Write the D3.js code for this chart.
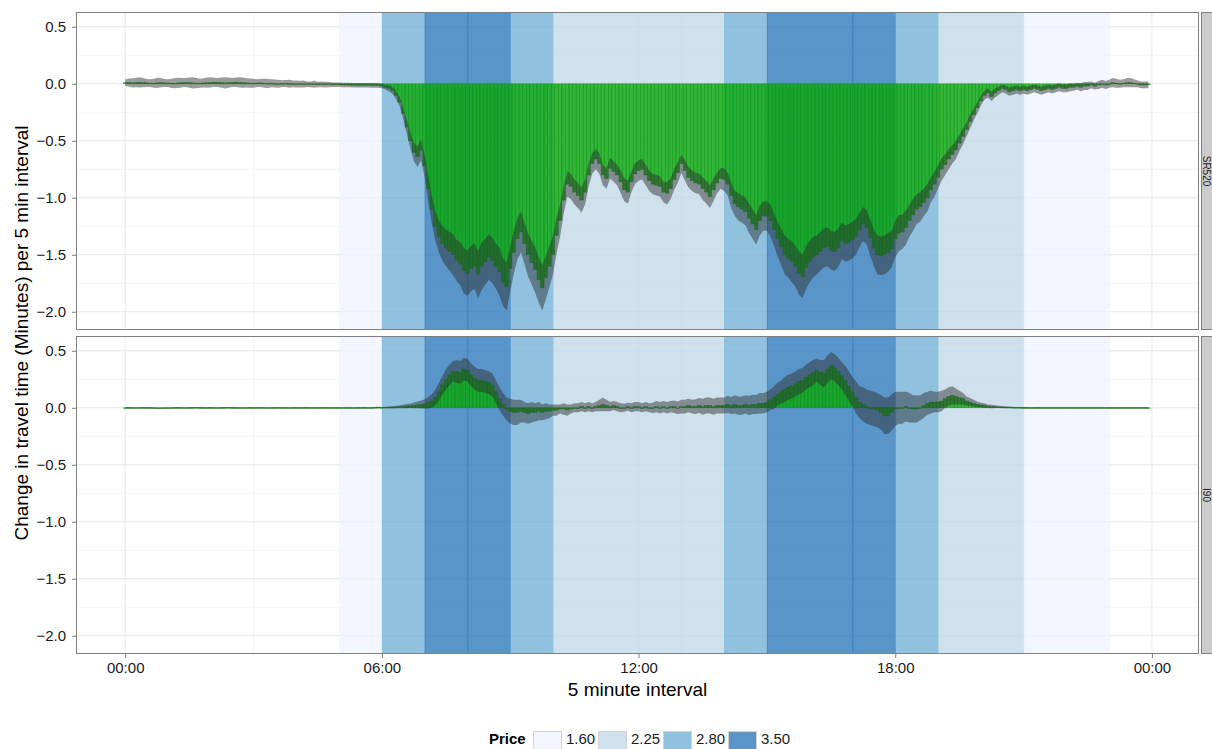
<!DOCTYPE html>
<html><head><meta charset="utf-8">
<script src="https://cdn.jsdelivr.net/npm/d3@7"></script>
<style>body{margin:0;background:#fff}svg{display:block;font-family:"Liberation Sans",Arial,Helvetica,sans-serif}</style>
</head><body><svg id="c" width="1212" height="749"></svg>
<script>
// ---------- DATA ----------
const facets = ["SR520", "I90"];
// change in travel time per 5-minute interval (00:00 .. 23:55), one row per hour
const sr520 = [
 0.01,0.012,0.008,0.01,0.012,0.01,0.008,0.006,0.005,0.008,0.01,0.008,
 0.006,0.004,0.005,0.008,0.01,0.012,0.01,0.008,0.006,0.005,0.008,0.01,
 0.012,0.014,0.012,0.01,0.008,0.01,0.012,0.015,0.012,0.01,0.008,0.006,
 0.005,0.006,0.008,0.005,0.003,0.004,0.002,0.0,0.002,0.003,0.001,0.0,
 -0.002,-0.003,-0.002,-0.004,-0.005,-0.004,-0.006,-0.005,-0.007,-0.006,-0.008,-0.008,
 -0.009,-0.01,-0.01,-0.011,-0.012,-0.012,-0.013,-0.012,-0.013,-0.014,-0.014,-0.015,
 -0.02,-0.03,-0.04,-0.06,-0.1,-0.16,-0.26,-0.38,-0.5,-0.6,-0.64,-0.58,
 -0.72,-0.92,-1.1,-1.25,-1.34,-1.4,-1.44,-1.47,-1.5,-1.55,-1.58,-1.64,
 -1.66,-1.62,-1.6,-1.67,-1.6,-1.56,-1.52,-1.55,-1.6,-1.65,-1.74,-1.78,
 -1.62,-1.48,-1.36,-1.3,-1.4,-1.5,-1.57,-1.63,-1.72,-1.79,-1.7,-1.6,
 -1.5,-1.33,-1.2,-1.02,-0.88,-0.9,-0.95,-0.98,-1.02,-0.95,-0.8,-0.7,
 -0.66,-0.7,-0.8,-0.83,-0.74,-0.77,-0.8,-0.86,-0.93,-0.95,-0.86,-0.79,
 -0.76,-0.75,-0.8,-0.85,-0.88,-0.89,-0.9,-0.95,-0.96,-0.92,-0.84,-0.78,
 -0.7,-0.76,-0.82,-0.85,-0.87,-0.88,-0.92,-0.95,-0.99,-0.93,-0.87,-0.83,
 -0.84,-0.88,-0.98,-1.05,-1.08,-1.1,-1.12,-1.18,-1.23,-1.28,-1.2,-1.16,
 -1.16,-1.2,-1.28,-1.36,-1.43,-1.5,-1.53,-1.56,-1.6,-1.66,-1.69,-1.61,
 -1.56,-1.52,-1.5,-1.47,-1.44,-1.43,-1.46,-1.47,-1.44,-1.38,-1.4,-1.39,
 -1.37,-1.34,-1.28,-1.23,-1.26,-1.35,-1.44,-1.5,-1.51,-1.5,-1.48,-1.45,
 -1.36,-1.31,-1.3,-1.26,-1.2,-1.15,-1.1,-1.08,-1.04,-1.0,-0.93,-0.88,
 -0.82,-0.75,-0.71,-0.66,-0.62,-0.58,-0.52,-0.46,-0.4,-0.33,-0.27,-0.21,
 -0.15,-0.1,-0.08,-0.11,-0.08,-0.06,-0.04,-0.05,-0.07,-0.06,-0.05,-0.06,
 -0.05,-0.06,-0.05,-0.04,-0.05,-0.06,-0.05,-0.04,-0.05,-0.04,-0.03,-0.04,
 -0.04,-0.03,-0.03,-0.02,-0.03,-0.02,-0.02,-0.01,-0.02,-0.01,0.0,-0.01,
 0.0,0.01,0.005,0.0,0.005,0.01,0.01,0.005,0.0,-0.01,-0.01,-0.01
];
const sr520Err = [
 0.03,0.035,0.04,0.04,0.045,0.04,0.035,0.035,0.04,0.045,0.04,0.035,
 0.035,0.04,0.045,0.045,0.04,0.04,0.045,0.05,0.045,0.04,0.04,0.045,
 0.045,0.04,0.04,0.045,0.05,0.045,0.04,0.04,0.045,0.045,0.04,0.04,
 0.04,0.035,0.035,0.04,0.04,0.035,0.035,0.035,0.03,0.03,0.035,0.03,
 0.03,0.03,0.03,0.025,0.025,0.03,0.025,0.025,0.025,0.025,0.02,0.02,
 0.02,0.02,0.02,0.02,0.02,0.02,0.02,0.02,0.02,0.02,0.02,0.02,
 0.02,0.02,0.025,0.03,0.035,0.04,0.05,0.06,0.07,0.08,0.09,0.09,
 0.1,0.11,0.12,0.13,0.14,0.15,0.16,0.17,0.18,0.18,0.19,0.2,
 0.2,0.2,0.2,0.21,0.21,0.2,0.2,0.2,0.2,0.21,0.21,0.21,
 0.2,0.19,0.18,0.18,0.18,0.19,0.19,0.2,0.2,0.2,0.19,0.18,
 0.17,0.16,0.14,0.12,0.11,0.11,0.11,0.11,0.11,0.11,0.1,0.09,
 0.09,0.09,0.09,0.09,0.09,0.09,0.09,0.1,0.1,0.1,0.09,0.09,
 0.09,0.09,0.09,0.09,0.09,0.09,0.09,0.09,0.1,0.09,0.09,0.09,
 0.08,0.09,0.09,0.09,0.09,0.09,0.1,0.1,0.1,0.1,0.09,0.09,
 0.1,0.1,0.11,0.11,0.12,0.12,0.12,0.13,0.13,0.13,0.13,0.13,
 0.13,0.14,0.14,0.15,0.16,0.17,0.17,0.18,0.18,0.19,0.19,0.19,
 0.18,0.18,0.17,0.17,0.17,0.17,0.17,0.17,0.17,0.16,0.16,0.16,
 0.16,0.16,0.15,0.15,0.15,0.16,0.16,0.17,0.17,0.17,0.17,0.16,
 0.16,0.16,0.15,0.15,0.14,0.14,0.13,0.13,0.12,0.12,0.11,0.11,
 0.1,0.1,0.09,0.09,0.08,0.08,0.07,0.07,0.06,0.06,0.05,0.05,
 0.04,0.04,0.04,0.04,0.04,0.035,0.035,0.035,0.035,0.035,0.035,0.035,
 0.035,0.035,0.035,0.035,0.035,0.035,0.035,0.035,0.035,0.035,0.035,0.035,
 0.035,0.035,0.03,0.03,0.035,0.035,0.035,0.03,0.03,0.035,0.035,0.035,
 0.035,0.04,0.04,0.035,0.035,0.04,0.04,0.035,0.03,0.03,0.03,0.03
];
const i90 = [
 0,0.001,0,-0.001,0,0.001,0,0,-0.002,-0.003,-0.004,-0.003,
 -0.002,-0.001,0,0.001,0,-0.001,0,0.001,0.002,0.001,0,0,
 0.001,0,-0.001,0,0.001,0.002,0.001,0,0,-0.001,0,0.001,
 0,0,0.001,0,-0.001,0,0,0.001,0,0,-0.001,0,
 0,0,0,0.001,0,0,0,0,0.001,0,0,0,
 0,0,0,0,-0.001,0,0,0.001,0,0,0.002,0.003,
 0.002,0.003,0.004,0.005,0.007,0.009,0.012,0.015,0.018,0.022,0.026,0.03,
 0.035,0.045,0.06,0.09,0.14,0.2,0.25,0.29,0.32,0.32,0.31,0.34,
 0.33,0.29,0.26,0.24,0.24,0.23,0.22,0.2,0.14,0.08,0.03,-0.01,
 -0.03,-0.04,-0.04,-0.03,-0.04,-0.05,-0.04,-0.04,-0.03,-0.04,-0.03,-0.03,
 -0.02,-0.02,-0.01,-0.01,-0.02,-0.01,0.0,0.0,0.01,0.0,0.01,0.0,
 0.01,0.02,0.03,0.02,0.01,0.02,0.01,0.0,0.0,0.01,0.0,0.01,
 0.01,0.0,0.01,0.0,0.0,0.01,0.0,0.01,0.0,0.01,0.01,0.0,
 0.01,0.01,0.02,0.01,0.01,0.02,0.01,0.02,0.02,0.01,0.02,0.02,
 0.02,0.03,0.02,0.03,0.02,0.02,0.03,0.02,0.03,0.03,0.04,0.04,
 0.05,0.07,0.09,0.12,0.14,0.16,0.18,0.19,0.21,0.23,0.24,0.27,
 0.29,0.31,0.33,0.31,0.3,0.34,0.37,0.35,0.32,0.28,0.24,0.19,
 0.14,0.09,0.05,0.03,0.01,0.0,-0.01,-0.02,-0.04,-0.07,-0.07,-0.04,
 -0.01,0.0,0.0,0.01,0.0,-0.01,-0.01,0.0,0.02,0.04,0.05,0.05,
 0.05,0.06,0.08,0.1,0.11,0.1,0.09,0.08,0.06,0.05,0.04,0.03,
 0.025,0.02,0.015,0.012,0.01,0.008,0.006,0.005,0.004,0.003,0.002,0.002,
 0.001,0.001,0,0,0.001,0,0,0,0,0,0,0,
 0,0,0,0,0,0,0,0,0,0,0,0,
 0,0,0,0,0,0,0,0,0,0,0,0
];
const i90Err = [
 0.006,0.006,0.006,0.006,0.006,0.006,0.006,0.006,0.006,0.006,0.006,0.006,
 0.006,0.006,0.006,0.006,0.006,0.006,0.006,0.006,0.006,0.006,0.006,0.006,
 0.006,0.006,0.006,0.006,0.006,0.006,0.006,0.006,0.006,0.006,0.006,0.006,
 0.006,0.006,0.006,0.006,0.006,0.006,0.006,0.006,0.006,0.006,0.006,0.006,
 0.006,0.006,0.006,0.006,0.006,0.006,0.006,0.006,0.006,0.006,0.006,0.006,
 0.006,0.006,0.006,0.006,0.006,0.006,0.006,0.006,0.006,0.006,0.006,0.006,
 0.006,0.007,0.008,0.01,0.011,0.013,0.015,0.018,0.02,0.025,0.03,0.035,
 0.04,0.05,0.06,0.07,0.08,0.08,0.09,0.09,0.09,0.1,0.1,0.1,
 0.1,0.1,0.1,0.1,0.1,0.1,0.1,0.1,0.1,0.1,0.1,0.1,
 0.11,0.11,0.11,0.1,0.09,0.09,0.09,0.08,0.08,0.07,0.07,0.06,
 0.05,0.05,0.04,0.05,0.05,0.04,0.04,0.04,0.04,0.04,0.04,0.04,
 0.04,0.05,0.06,0.05,0.04,0.04,0.04,0.04,0.035,0.035,0.04,0.04,
 0.04,0.04,0.04,0.04,0.045,0.05,0.05,0.05,0.05,0.05,0.055,0.055,
 0.06,0.06,0.06,0.06,0.065,0.065,0.07,0.07,0.07,0.07,0.07,0.07,
 0.07,0.075,0.075,0.08,0.08,0.08,0.08,0.085,0.085,0.085,0.09,0.09,
 0.09,0.09,0.1,0.1,0.1,0.11,0.11,0.11,0.11,0.11,0.11,0.11,
 0.11,0.11,0.1,0.11,0.12,0.12,0.12,0.12,0.12,0.12,0.13,0.13,
 0.13,0.14,0.14,0.15,0.15,0.15,0.15,0.15,0.15,0.16,0.16,0.16,
 0.15,0.14,0.14,0.13,0.13,0.12,0.12,0.11,0.11,0.1,0.1,0.09,
 0.09,0.09,0.08,0.08,0.08,0.07,0.06,0.05,0.04,0.035,0.03,0.025,
 0.02,0.02,0.015,0.015,0.012,0.01,0.01,0.008,0.008,0.007,0.006,0.006,
 0.006,0.006,0.006,0.006,0.006,0.006,0.006,0.006,0.006,0.006,0.006,0.006,
 0.006,0.006,0.006,0.006,0.006,0.006,0.006,0.006,0.006,0.006,0.006,0.006,
 0.006,0.006,0.006,0.006,0.006,0.006,0.006,0.006,0.006,0.006,0.006,0.006
];
// toll schedule (hours of day)
const priceLevels = ["1.60", "2.25", "2.80", "3.50"];
const tollStart = [5, 6, 7, 8, 9, 10, 13, 14, 15, 17, 18, 19, 21];
const tollEnd   = [6, 7, 8, 9, 10, 13, 14, 15, 17, 18, 19, 21, 23];
const tollPrice = ["1.60","2.80","3.50","3.50","2.80","2.25","2.25","2.80","3.50","3.50","2.80","2.25","1.60"];
const xTicks = [0, 6, 12, 18, 24];
const xTickLabels = ["00:00", "06:00", "12:00", "18:00", "00:00"];
const yTicks = [0.5, 0, -0.5, -1, -1.5, -2];
const yTickLabels = ["0.5", "0.0", "\u22120.5", "\u22121.0", "\u22121.5", "\u22122.0"];

// ---------- CHART ----------
const svg = d3.select("#c");
const L = 76, R = 1199;
const panels = [
  {name: facets[0], vals: sr520, err: sr520Err, top: 12, bottom: 330},
  {name: facets[1], vals: i90, err: i90Err, top: 336, bottom: 654}
];
const x = d3.scaleLinear().domain([-1.15, 25.1]).range([L, R]);
const color = d3.scaleOrdinal().domain(priceLevels).range(["#eff3ff", "#bdd7e7", "#6baed6", "#2171b5"]);
const bandAlpha = 0.75;
const stepH = 5 / 60;
const barW = x(stepH) - x(0);
const textCol = "#1a1a1a";
const tickFont = 15;

panels.forEach(p => {
  const y = d3.scaleLinear().domain([-2.16, 0.63]).range([p.bottom, p.top]);
  const g = svg.append("g");
  g.append("rect").attr("x", L).attr("y", p.top).attr("width", R - L).attr("height", p.bottom - p.top).attr("fill", "#fff");
  const xMinor = [3, 9, 15, 21];
  const yMinor = [0.25, -0.25, -0.75, -1.25, -1.75];
  g.selectAll(".xm").data(xMinor).join("line").attr("x1", d => x(d)).attr("x2", d => x(d))
    .attr("y1", p.top).attr("y2", p.bottom).attr("stroke", "#f5f5f5").attr("stroke-width", 1);
  g.selectAll(".ym").data(yMinor).join("line").attr("y1", d => y(d)).attr("y2", d => y(d))
    .attr("x1", L).attr("x2", R).attr("stroke", "#f5f5f5").attr("stroke-width", 1);
  g.selectAll(".xM").data(xTicks).join("line").attr("x1", d => x(d)).attr("x2", d => x(d))
    .attr("y1", p.top).attr("y2", p.bottom).attr("stroke", "#e6e6e6").attr("stroke-width", 1);
  g.selectAll(".yM").data(yTicks).join("line").attr("y1", d => y(d)).attr("y2", d => y(d))
    .attr("x1", L).attr("x2", R).attr("stroke", "#e6e6e6").attr("stroke-width", 1);
  // price bands
  const bands = tollStart.map((s, i) => ({s, e: tollEnd[i], price: tollPrice[i]}));
  g.selectAll(".band").data(bands).join("rect")
    .attr("x", d => x(d.s)).attr("width", d => x(d.e) - x(d.s) + 0.8)
    .attr("y", p.top).attr("height", p.bottom - p.top)
    .attr("fill", d => color(d.price)).attr("fill-opacity", bandAlpha);
  // bars
  const pts = p.vals.map((v, i) => ({t: i * stepH, v, e: p.err[i]}));
  g.selectAll(".bar").data(pts).join("rect")
    .attr("x", d => x(d.t) - barW / 2).attr("width", barW)
    .attr("y", d => Math.min(y(d.v), y(0))).attr("height", d => Math.max(0.6, Math.abs(y(d.v) - y(0))))
    .attr("fill", "#08a808").attr("fill-opacity", 0.78)
    .attr("stroke", "#0b930b").attr("stroke-width", 0.5).attr("stroke-opacity", 0.8);
  // ribbon
  const area = d3.area().x(d => x(d.t)).y0(d => y(d.v - d.e)).y1(d => y(d.v + d.e));
  g.append("path").datum(pts).attr("d", area).attr("fill", "#2a2a2a").attr("fill-opacity", 0.47);
  // border
  g.append("rect").attr("x", L + 0.5).attr("y", p.top + 0.5).attr("width", R - L - 1).attr("height", p.bottom - p.top - 1)
    .attr("fill", "none").attr("stroke", "#7f7f7f").attr("stroke-width", 1);
  // strip
  g.append("rect").attr("x", R + 2.5).attr("y", p.top + 0.5).attr("width", 22).attr("height", p.bottom - p.top - 1)
    .attr("fill", "#cccccc").attr("stroke", "#7f7f7f").attr("stroke-width", 1);
  const cy = (p.top + p.bottom) / 2;
  g.append("text").attr("transform", `translate(${R + 7.5},${cy}) rotate(90)`)
    .attr("text-anchor", "middle").attr("dominant-baseline", "central")
    .attr("font-size", 10).attr("fill", textCol).text(p.name);
  // y axis
  const ya = d3.axisLeft(y).tickValues(yTicks).tickFormat((d, i) => yTickLabels[i]).tickSize(4).tickPadding(6);
  const ag = g.append("g").attr("transform", `translate(${L},0)`).call(ya);
  ag.select(".domain").remove();
  ag.selectAll("line").attr("stroke", "#7f7f7f");
  ag.selectAll("text").attr("font-size", tickFont).attr("fill", textCol).attr("font-family", "Liberation Sans, Arial, sans-serif");
});

// x axis
const xa = d3.axisBottom(x).tickValues(xTicks).tickFormat((d, i) => xTickLabels[i]).tickSize(4).tickPadding(4);
const xg = svg.append("g").attr("transform", `translate(0,654)`).call(xa);
xg.select(".domain").remove();
xg.selectAll("line").attr("stroke", "#7f7f7f");
xg.selectAll("text").attr("font-size", tickFont).attr("fill", textCol).attr("font-family", "Liberation Sans, Arial, sans-serif");

// titles
svg.append("text").attr("x", (L + R) / 2).attr("y", 696).attr("text-anchor", "middle")
  .attr("font-size", 19).attr("fill", "#000").text("5 minute interval");
svg.append("text").attr("transform", `translate(28,333) rotate(-90)`).attr("text-anchor", "middle")
  .attr("font-size", 19).attr("fill", "#000").text("Change in travel time (Minutes) per 5 min interval");

// legend
const lg = svg.append("g");
lg.append("text").attr("x", 489).attr("y", 744).attr("font-size", 15).attr("font-weight", "bold").attr("fill", "#000").text("Price");
const keyX = [533, 598, 663, 728];
priceLevels.forEach((lvl, i) => {
  lg.append("rect").attr("x", keyX[i] + 0.5).attr("y", 731.5).attr("width", 28).attr("height", 20)
    .attr("fill", color(lvl)).attr("fill-opacity", bandAlpha).attr("stroke", "#d3d3d3").attr("stroke-width", 1);
  lg.append("text").attr("x", keyX[i] + 33).attr("y", 744).attr("font-size", 15).attr("fill", textCol).text(lvl);
});
</script></body></html>
